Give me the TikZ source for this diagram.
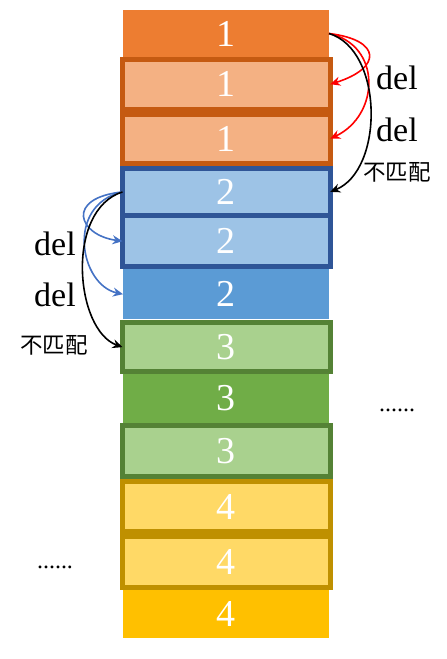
\documentclass[tikz,border=0pt]{standalone}
\usepackage{fontspec}
\setmainfont{Liberation Serif}
\newfontfamily\cjkfont{Noto Sans CJK SC}
\usetikzlibrary{arrows.meta}
\definecolor{orangeA}{HTML}{ED7D31}
\definecolor{orangeL}{HTML}{F4B183}
\definecolor{orangeD}{HTML}{C55A11}
\definecolor{blueL}{HTML}{9DC3E6}
\definecolor{blueD}{HTML}{2F5597}
\definecolor{blueA}{HTML}{5B9BD5}
\definecolor{greenL}{HTML}{A9D18E}
\definecolor{greenD}{HTML}{548235}
\definecolor{greenA}{HTML}{70AD47}
\definecolor{yellowL}{HTML}{FFD966}
\definecolor{yellowD}{HTML}{BF9000}
\definecolor{yellowA}{HTML}{FFC000}
\definecolor{arrowblue}{HTML}{4472C4}
\tikzset{
  pbox/.style={fill=#1, inner sep=0pt, outer sep=0pt, minimum width=206pt, text=white, font=\fontsize{38}{38}\selectfont},
  obox/.style 2 args={fill=#1, draw=#2, line width=5pt, inner sep=0pt, outer sep=0pt, minimum width=207.7pt, text=white, font=\fontsize{38}{38}\selectfont},
  dellabel/.style={font=\fontsize{34}{34}\selectfont, inner sep=0pt},
  cjklabel/.style={font=\cjkfont\fontsize{22.5}{22.5}\selectfont, inner sep=0pt},
  dots/.style={font=\fontsize{24}{24}\selectfont, inner sep=0pt},
  redarr/.style={draw=red, line width=1.6pt, -{Stealth[length=10pt,width=9pt]}},
  bluearr/.style={draw=arrowblue, line width=1.6pt, -{Stealth[length=10pt,width=9pt]}},
  blackarr/.style={draw=black, line width=1.6pt, -{Stealth[length=10pt,width=9pt]}},
}
\begin{document}
\begin{tikzpicture}[x=1pt,y=-1pt]
\useasboundingbox (0,0) rectangle (447,659);
\node[pbox=orangeA, minimum height=47pt] (b1) at (226,33.5) {1};
\node[obox={orangeL}{orangeD}, minimum height=49.5pt] (b2) at (226.35,84.25) {1};
\node[obox={orangeL}{orangeD}, minimum height=49.5pt] (b3) at (226.35,138.75) {1};
\node[obox={blueL}{blueD}, minimum height=47.5pt] (b4) at (226.35,191.9) {2};
\node[obox={blueL}{blueD}, minimum height=51pt] (b5) at (226.35,241.2) {2};
\node[pbox=blueA, minimum height=49.7pt] (b6) at (226,294.2) {2};
\node[obox={greenL}{greenD}, minimum height=48.7pt] (b7) at (226.35,347.15) {3};
\node[pbox=greenA, minimum height=49pt] (b8) at (226,398.5) {3};
\node[obox={greenL}{greenD}, minimum height=51pt] (b9) at (226.35,451) {3};
\node[obox={yellowL}{yellowD}, minimum height=50pt] (b10) at (226.35,506.5) {4};
\node[obox={yellowL}{yellowD}, minimum height=51pt] (b11) at (226.35,562) {4};
\node[pbox=yellowA, minimum height=47.7pt] (b12) at (226,613.85) {4};
% right labels
\node[dellabel] (rdel1) at (397,78) {del};
\node[dellabel] (rdel2) at (397,130) {del};
\node[cjklabel] (rnm) at (397,172) {不匹配};
\node[dots] (rdots) at (397,410) {......};
% left labels
\node[dellabel] (ldel1) at (55,244) {del};
\node[dellabel] (ldel2) at (55,295) {del};
\node[cjklabel] (lnm) at (54,345) {不匹配};
\node[dots] (ldots) at (55,567) {......};
% right arrows
\draw[redarr] (b1.east) .. controls (382,40) and (382,68) .. (b2.east);
\draw[redarr] (b1.east) .. controls (382,45) and (380,115) .. (b3.east);
\draw[blackarr] (b1.east) .. controls (384,50) and (384,170) .. (b4.east);
% left arrows
\draw[bluearr] (b4.west) .. controls (65,198) and (78,235) .. (b5.west);
\draw[bluearr] (b4.west) .. controls (65,205) and (80,285) .. (b6.west);
\draw[blackarr] (b4.west) .. controls (65,210) and (75,330) .. (b7.west);
\end{tikzpicture}
\end{document}
